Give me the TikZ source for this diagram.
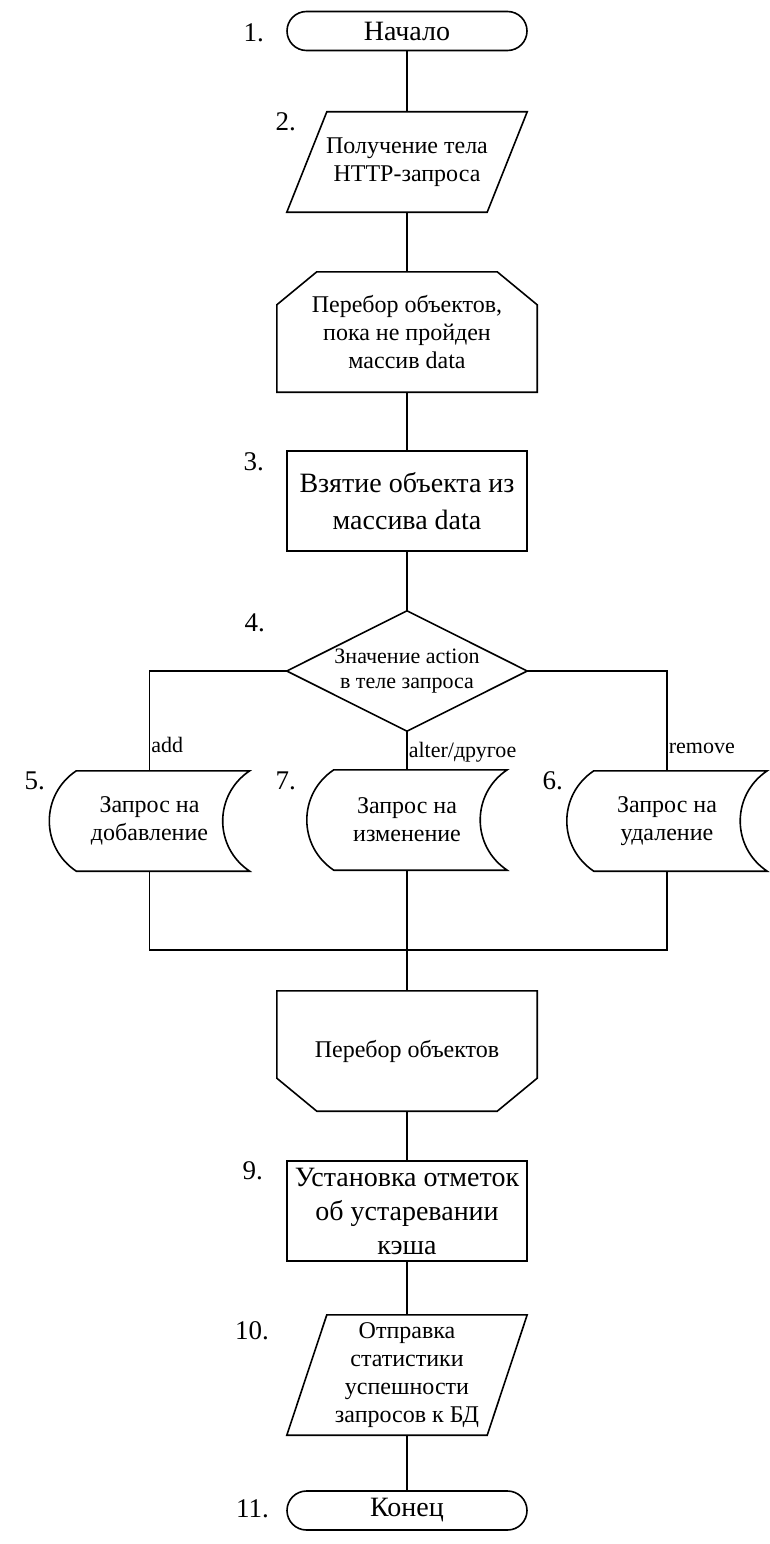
\documentclass[tikz,border=0pt]{standalone}
\usepackage{fontspec}
\setmainfont{Liberation Serif}
\usepackage{tikz}
\usetikzlibrary{positioning}
\newcommand{\bigtxt}{\fontsize{28}{34}\selectfont}
\newcommand{\midtxt}{\fontsize{24}{28}\selectfont}
\newcommand{\smalltxt}{\fontsize{22}{25}\selectfont}
\tikzstyle{terminal} = [rectangle, rounded corners=19.5pt, minimum width=240pt, minimum height=39pt, text centered, draw=black, line width=1.6pt, font=\bigtxt]
\tikzstyle{process} = [rectangle, minimum width=240pt, minimum height=100pt, align=center, draw=black, line width=1.6pt, font=\bigtxt, inner sep=0pt]
\tikzstyle{shapebox} = [rectangle, align=center, inner sep=0pt, font=\midtxt]
\tikzstyle{outline} = [line width=1.6pt, line join=miter]
\tikzstyle{line} = [line width=1.6pt]
\tikzstyle{branch} = [font=\fontsize{22}{26}\selectfont, inner sep=1pt, anchor=west]
\tikzstyle{num} = [font=\fontsize{27}{30}\selectfont, inner sep=0pt, anchor=east]

\begin{document}
\begin{tikzpicture}[x=1pt, y=-1pt]
    \useasboundingbox (0,0) rectangle (770,1544);
    \node (Start) [terminal] at (407,31) {Начало};
    \node (Input) [shapebox, minimum width=240pt, minimum height=100pt] at (407,162) {Получение тела\\HTTP-запроса};
    \node (LoopBeg) [shapebox, minimum width=260pt, minimum height=120pt] at (407,332) {Перебор объектов,\\пока не пройден\\массив data};
    \node (Take) [process, font=\fontsize{28}{37}\selectfont] at (407,501) {Взятие объекта из\\массива data};
    \node (Action) [shapebox, minimum width=240pt, minimum height=120pt, font=\smalltxt] at (407,671) {Значение action\\в теле запроса};
    \node (Add) [shapebox, minimum width=200pt, minimum height=100pt] at (149.5,821) {Запрос на\\добавление};
    \node (Alter) [shapebox, minimum width=200pt, minimum height=100pt] at (407,820) {Запрос на\\изменение};
    \node (Remove) [shapebox, minimum width=200pt, minimum height=100pt] at (667,821) {Запрос на\\удаление};
    \coordinate (Join) at (407,950);
    \node (LoopEnd) [shapebox, minimum width=260pt, minimum height=120pt] at (407,1051) {Перебор объектов};
    \node (Mark) [process] at (407,1211) {Установка отметок\\об устаревании\\кэша};
    \node (Output) [shapebox, minimum width=240pt, minimum height=120pt] at (407,1375) {Отправка\\статистики\\успешности\\запросов к БД};
    \node (Stop) [terminal] at (407,1510.5) {Конец};

    % shapes
    \draw [outline] ([xshift=40pt]Input.north west) -- (Input.north east) -- ([xshift=-40pt]Input.south east) -- (Input.south west) -- cycle;
    \draw [outline] ([xshift=40pt]Output.north west) -- (Output.north east) -- ([xshift=-40pt]Output.south east) -- (Output.south west) -- cycle;
    \draw [outline] ([xshift=40pt]LoopBeg.north west) -- ([xshift=-40pt]LoopBeg.north east) -- ([yshift=-33pt]LoopBeg.north east) -- (LoopBeg.south east) -- (LoopBeg.south west) -- ([yshift=-33pt]LoopBeg.north west) -- cycle;
    \draw [outline] (LoopEnd.north west) -- (LoopEnd.north east) -- ([yshift=33pt]LoopEnd.south east) -- ([xshift=-40pt]LoopEnd.south east) -- ([xshift=40pt]LoopEnd.south west) -- ([yshift=33pt]LoopEnd.south west) -- cycle;
    \draw [outline] (Action.north) -- (Action.east) -- (Action.south) -- (Action.west) -- cycle;
    \foreach \q in {Add, Alter, Remove}
        \draw [outline] ([xshift=27pt]\q.north west) -- (\q.north east) .. controls +(-36,24) and +(-36,-24) .. (\q.south east) -- ([xshift=27pt]\q.south west) .. controls +(-36,-24) and +(-36,24) .. ([xshift=27pt]\q.north west) -- cycle;

    % numbers
    \node (N1) [num] at (264,33) {1.};
    \node (N2) [num] at (296,122) {2.};
    \node (N3) [num] at (264,462) {3.};
    \node (N4) [num] at (265,623) {4.};
    \node (N5) [num] at (45,781) {5.};
    \node (N7) [num] at (296,781) {7.};
    \node (N6) [num] at (563,781) {6.};
    \node (N9) [num] at (263,1171) {9.};
    \node (N10) [num] at (269,1331) {10.};
    \node (N11) [num] at (269,1509) {11.};

    % connectors
    \draw [line] (Start) -- (Input);
    \draw [line] (Input) -- (LoopBeg);
    \draw [line] (LoopBeg) -- (Take);
    \draw [line] (Take) -- (Action.north);
    \draw [line] (Action.west) -| node [branch, pos=0.87] {add} (Add.north);
    \draw [line] (Action.south) -- node [branch, pos=0.54] {alter/другое} (Alter.north);
    \draw [line] (Action.east) -| node [branch, pos=0.89] {remove} (Remove.north);
    \draw [line] (Add.south) |- (Join) -| (Remove.south);
    \draw [line] (Alter.south) -- (LoopEnd.north);
    \draw [line] (LoopEnd) -- (Mark);
    \draw [line] (Mark) -- (Output);
    \draw [line] (Output) -- (Stop);
\end{tikzpicture}
\end{document}
